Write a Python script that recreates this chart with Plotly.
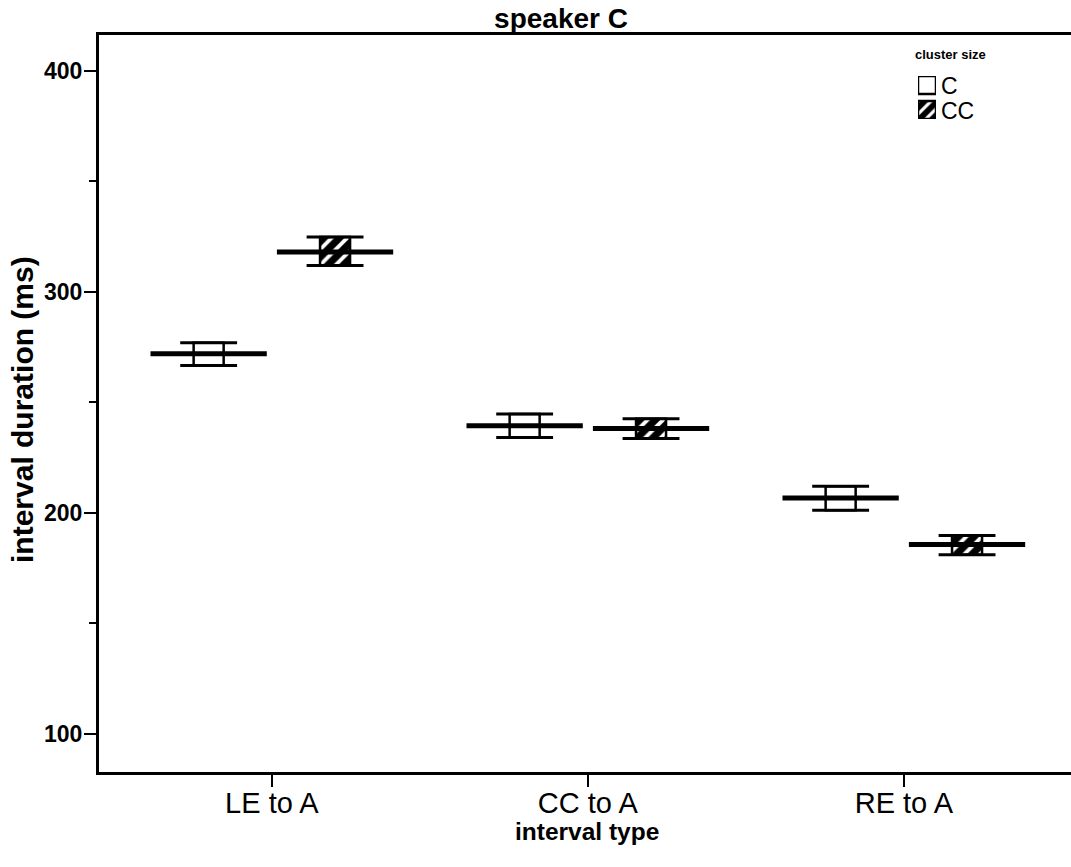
import plotly.graph_objects as go

# interval types on the x axis
categories = ["LE to A", "CC to A", "RE to A"]

# cluster size C: mean and confidence limits (ms)
mean_c = [272.0, 239.4, 206.7]
upper_c = [277.0, 244.7, 212.0]
lower_c = [266.6, 234.1, 201.1]

# cluster size CC: mean and confidence limits (ms)
mean_cc = [318.1, 238.1, 185.6]
upper_cc = [324.8, 242.6, 189.7]
lower_cc = [311.9, 233.6, 181.0]

y_ticks = [100, 200, 300, 400]
legend_names = ["C", "CC"]

FONT = "Liberation Sans, Arial, sans-serif"
pos = list(range(len(categories)))
offset = 0.2
mean_half = 0.184
cap_half = 0.09
box_w = 0.095

# plot area in pixels, used to place text in paper coordinates
L, R, T, B = 99, 1071, 35, 772


def px_x(x):
    return (x - L) / (R - L)


def px_y(y):
    return (B - y) / (B - T)


def segments(xs, ys, half):
    sx, sy = [], []
    for x, y in zip(xs, ys):
        sx += [x - half, x + half, None]
        sy += [y, y, None]
    return sx, sy


white_box = dict(color="white", line=dict(color="black", width=2.5))
hatched_box = dict(color="black", line=dict(color="black", width=2.5),
                   pattern=dict(shape="/", fgcolor="white", bgcolor="black",
                                size=11, solidity=0.35, fillmode="replace"))

fig = go.Figure()

groups = [
    ("C", -offset, mean_c, upper_c, lower_c, white_box),
    ("CC", offset, mean_cc, upper_cc, lower_cc, hatched_box),
]

for name, off, means, ups, lows, marker in groups:
    xs = [p + off for p in pos]
    # confidence box
    fig.add_trace(go.Bar(
        x=xs, y=[u - l for u, l in zip(ups, lows)], base=lows,
        width=box_w, marker=marker, name=name, showlegend=False,
        hoverinfo="skip"))
    # caps at the confidence limits
    cx, cy = segments(xs + xs, ups + lows, cap_half)
    fig.add_trace(go.Scatter(x=cx, y=cy, mode="lines",
                             line=dict(color="black", width=3),
                             showlegend=False, hoverinfo="skip"))
    # mean line
    mx, my = segments(xs, means, mean_half)
    fig.add_trace(go.Scatter(x=mx, y=my, mode="lines",
                             line=dict(color="black", width=5),
                             showlegend=False, hoverinfo="skip"))

# legend swatches drawn on a small helper axis
hatched_legend = dict(hatched_box)
hatched_legend["pattern"] = dict(shape="/", fgcolor="white", bgcolor="black",
                                 size=9, solidity=0.35, fillmode="replace")
for base, marker in [(1.4, white_box), (0.0, hatched_legend)]:
    fig.add_trace(go.Bar(x=[0.5], y=[1], base=[base], width=1,
                         marker=marker, xaxis="x2", yaxis="y2",
                         cliponaxis=False, showlegend=False,
                         hoverinfo="skip"))

legend_ann = [
    dict(text=legend_names[0], x=px_x(939), y=px_y(86)),
    dict(text=legend_names[1], x=px_x(939), y=px_y(111)),
]

annotations = [
    dict(text="<b>interval type</b>", xref="paper", yref="paper",
         x=px_x(587), y=px_y(831), xanchor="center", yanchor="middle",
         showarrow=False, font=dict(size=24.5)),
    dict(text="<b>interval duration (ms)</b>", xref="paper", yref="paper",
         x=px_x(22), y=px_y(410), xanchor="center", yanchor="middle",
         textangle=-90, showarrow=False, font=dict(size=30)),
    dict(text="<b>cluster size</b>", xref="paper", yref="paper",
         x=px_x(950), y=px_y(54), xanchor="center", yanchor="middle",
         showarrow=False, font=dict(size=13)),
]
for a in legend_ann:
    annotations.append(dict(a, xref="paper", yref="paper", xanchor="left",
                            yanchor="middle", showarrow=False,
                            font=dict(size=23)))

fig.update_layout(
    width=1071, height=867,
    margin=dict(l=L, r=1071 - R, t=T, b=867 - B),
    paper_bgcolor="white", plot_bgcolor="white",
    barmode="overlay", showlegend=False,
    font=dict(family=FONT, color="black"),
    title=dict(text="<b>speaker C</b>", font=dict(size=28),
               x=561 / 1071, xanchor="center", xref="container",
               y=1 - 18 / 867, yanchor="middle", yref="container"),
    xaxis=dict(
        range=[-0.547, 2.529],
        tickvals=pos, ticktext=categories,
        ticks="outside", ticklen=12, tickwidth=2, tickcolor="black",
        tickfont=dict(size=29), ticklabelstandoff=-9,
        showline=True, linecolor="black", linewidth=3, mirror=True,
        showgrid=False, zeroline=False),
    yaxis=dict(
        range=[82.6, 416.3],
        tickvals=y_ticks, ticktext=[f"<b>{v}</b>" for v in y_ticks],
        ticks="outside", ticklen=12, tickwidth=2, tickcolor="black",
        tickfont=dict(size=23), ticklabelstandoff=-3,
        minor=dict(tickvals=[150, 250, 350], ticks="outside", ticklen=7,
                   tickwidth=2, tickcolor="black", showgrid=False),
        showline=True, linecolor="black", linewidth=3,
        showgrid=False, zeroline=False),
    xaxis2=dict(domain=[px_x(918), px_x(936)], range=[0, 1],
                anchor="y2", visible=False, fixedrange=True),
    yaxis2=dict(domain=[px_y(119), px_y(76)], range=[0, 2.4],
                anchor="x2", visible=False, fixedrange=True),
    annotations=annotations,
)

fig.write_html("out.html")
